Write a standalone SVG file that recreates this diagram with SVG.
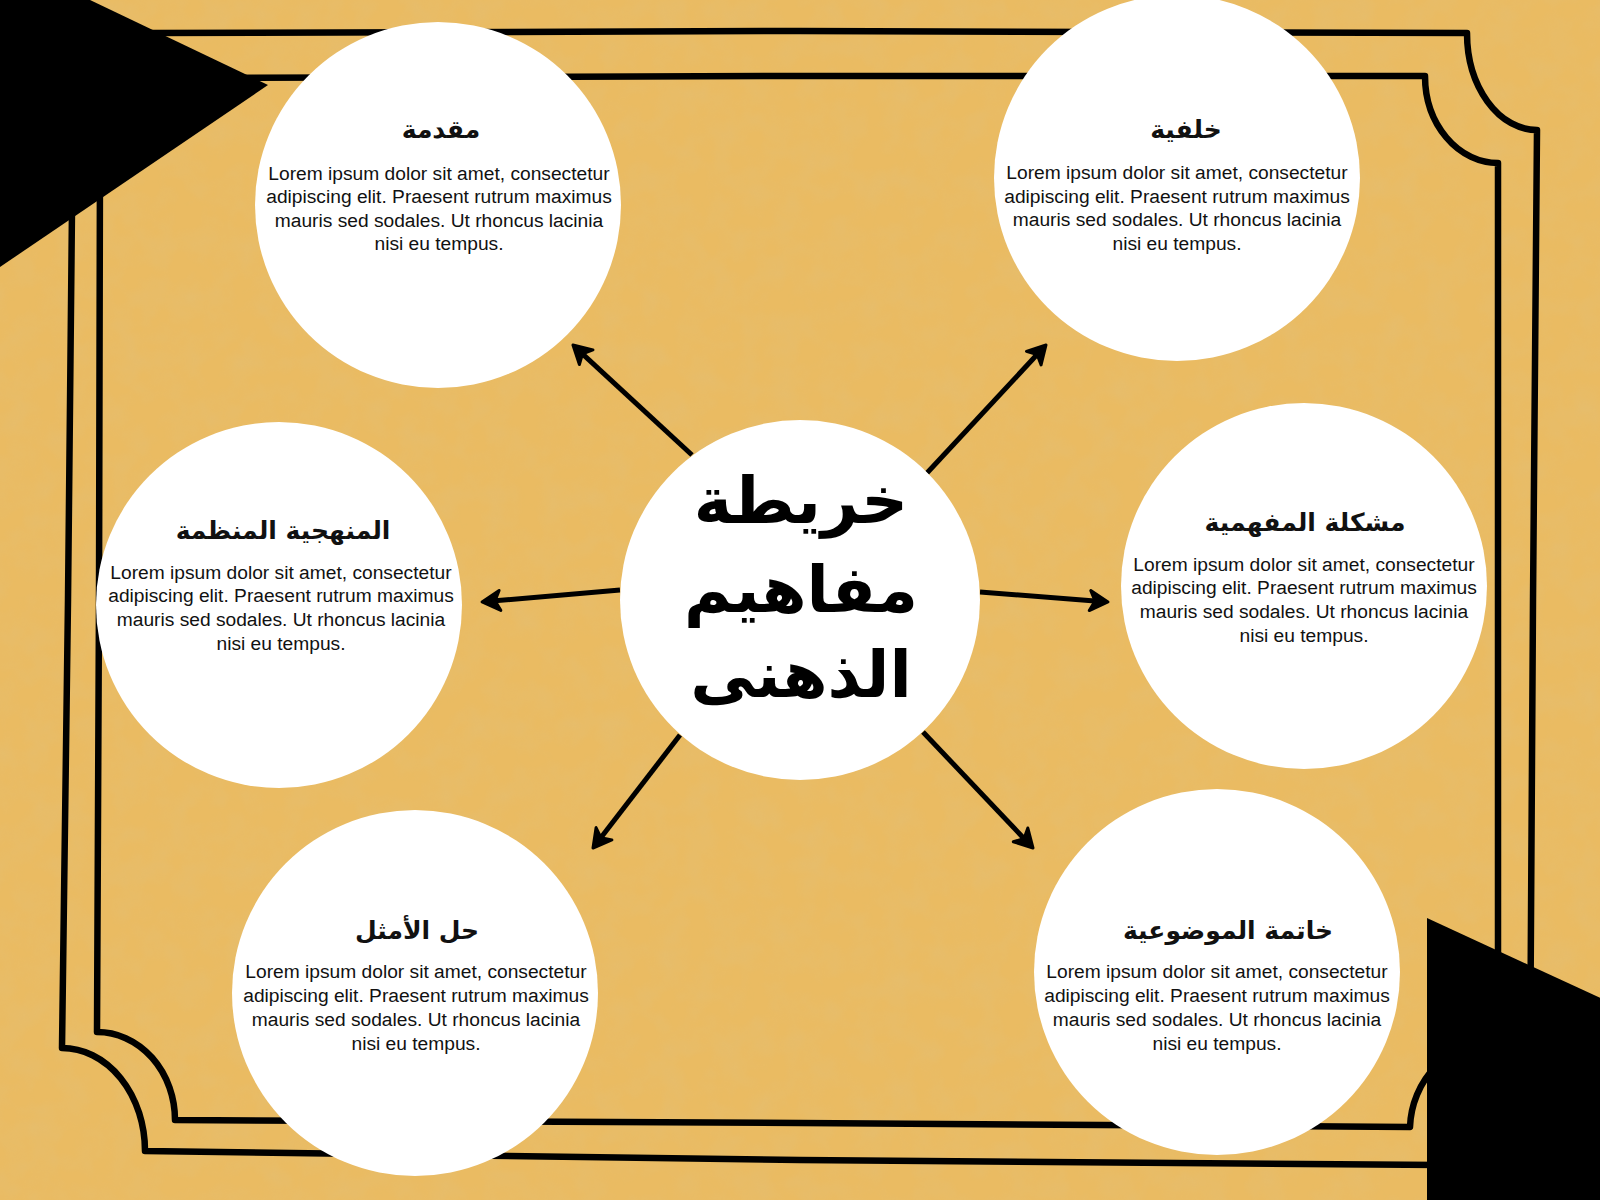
<svg xmlns="http://www.w3.org/2000/svg" width="1600" height="1200" viewBox="0 0 1600 1200">
  <defs>
    <style>
      .bg { fill: #EABB62; }
      .frame { fill: none; stroke: #000; stroke-width: 6.5; stroke-linejoin: round; stroke-linecap: round; }
      .tri { fill: #000; }
      .node { fill: #FFFFFF; }
      .head { font-family: "DejaVu Sans", "Noto Sans", sans-serif; font-weight: bold; font-size: 25px; fill: #111; text-anchor: middle; }
      .body { font-family: "Liberation Sans", Arial, sans-serif; font-size: 19.2px; fill: #111; text-anchor: middle; }
      .title { font-family: "DejaVu Sans", "Noto Sans", sans-serif; font-weight: bold; font-size: 65px; fill: #000; text-anchor: middle; }
      .conn { stroke: #000; stroke-width: 5; fill: none; marker-end: url(#arrow); }
    </style>
    <marker id="arrow" markerUnits="userSpaceOnUse" viewBox="-12 -14 26 28" refX="0" refY="0" markerWidth="26" markerHeight="28" orient="auto">
      <path d="M10,0 L-8,-10 L-3,0 L-8,10 Z" fill="#000" stroke="#000" stroke-width="3" stroke-linejoin="round"/>
    </marker>
    <filter id="grain" x="0" y="0" width="100%" height="100%">
      <feTurbulence type="fractalNoise" baseFrequency="0.035" numOctaves="3" seed="7" result="n"/>
      <feColorMatrix in="n" type="matrix" values="0 0 0 0 0.72  0 0 0 0 0.55  0 0 0 0 0.25  0 0 0 -1.6 1.05"/>
    </filter>
  </defs>

  <rect class="bg" x="0" y="0" width="1600" height="1200"/>
  <rect x="0" y="0" width="1600" height="1200" filter="url(#grain)" opacity="0.25"/>

  <g id="frame">
    <path class="frame" d="M150,33 L800,31 L1467,33 A70,97 0 0 0 1537,130 L1533,600 L1530,1080 A90,85 0 0 0 1440,1165 L800,1160 L145,1151 A83,103 0 0 0 62,1048 L68,600 L73,112 A80,80 0 0 0 150,33 Z"/>
    <path class="frame" d="M180,78 L800,76 L1425,76 A73,87 0 0 0 1498,163 L1498,600 L1498,1040 A88,90 0 0 0 1410,1127 L800,1123 L175,1120 A78,88 0 0 0 97,1032 L99,600 L100,150 A80,72 0 0 0 180,78 Z"/>
  </g>

  <polygon class="tri" points="0,-43 268,85 0,267"/>
  <polygon class="tri" points="1427,918 1620,1007 1620,1210 1427,1210"/>

  <g id="connectors">
    <line class="conn" x1="692" y1="455" x2="580.3" y2="351.8"/>
    <line class="conn" x1="927" y1="473" x2="1039.2" y2="352.3"/>
    <line class="conn" x1="620" y1="590" x2="492" y2="601.1"/>
    <line class="conn" x1="980" y1="592" x2="1098" y2="601.2"/>
    <line class="conn" x1="680" y1="735" x2="599.1" y2="840.1"/>
    <line class="conn" x1="923" y1="732" x2="1026.1" y2="840.7"/>
  </g>

  <g id="center">
    <circle class="node" cx="800" cy="600" r="180"/>
    <text class="title" x="801" y="523">خريطة</text>
    <text class="title" x="801" y="612">مفاهيم</text>
    <text class="title" x="801" y="697">الذهنى</text>
  </g>

  <g id="node-intro">
    <circle class="node" cx="438" cy="205" r="183"/>
    <text class="head" x="441" y="138">مقدمة</text>
    <text class="body" x="439" y="180">Lorem ipsum dolor sit amet, consectetur</text>
    <text class="body" x="439" y="203">adipiscing elit. Praesent rutrum maximus</text>
    <text class="body" x="439" y="227">mauris sed sodales. Ut rhoncus lacinia</text>
    <text class="body" x="439" y="250">nisi eu tempus.</text>
  </g>

  <g id="node-background">
    <circle class="node" cx="1177" cy="178" r="183"/>
    <text class="head" x="1186" y="138">خلفية</text>
    <text class="body" x="1177" y="179">Lorem ipsum dolor sit amet, consectetur</text>
    <text class="body" x="1177" y="203">adipiscing elit. Praesent rutrum maximus</text>
    <text class="body" x="1177" y="226">mauris sed sodales. Ut rhoncus lacinia</text>
    <text class="body" x="1177" y="250">nisi eu tempus.</text>
  </g>

  <g id="node-method">
    <circle class="node" cx="279" cy="605" r="183"/>
    <text class="head" x="283" y="539">المنهجية المنظمة</text>
    <text class="body" x="281" y="579">Lorem ipsum dolor sit amet, consectetur</text>
    <text class="body" x="281" y="602">adipiscing elit. Praesent rutrum maximus</text>
    <text class="body" x="281" y="626">mauris sed sodales. Ut rhoncus lacinia</text>
    <text class="body" x="281" y="650">nisi eu tempus.</text>
  </g>

  <g id="node-problem">
    <circle class="node" cx="1304" cy="586" r="183"/>
    <text class="head" x="1305" y="531">مشكلة المفهمية</text>
    <text class="body" x="1304" y="571">Lorem ipsum dolor sit amet, consectetur</text>
    <text class="body" x="1304" y="594">adipiscing elit. Praesent rutrum maximus</text>
    <text class="body" x="1304" y="618">mauris sed sodales. Ut rhoncus lacinia</text>
    <text class="body" x="1304" y="642">nisi eu tempus.</text>
  </g>

  <g id="node-solution">
    <circle class="node" cx="415" cy="993" r="183"/>
    <text class="head" x="417" y="939">حل الأمثل</text>
    <text class="body" x="416" y="978">Lorem ipsum dolor sit amet, consectetur</text>
    <text class="body" x="416" y="1002">adipiscing elit. Praesent rutrum maximus</text>
    <text class="body" x="416" y="1026">mauris sed sodales. Ut rhoncus lacinia</text>
    <text class="body" x="416" y="1050">nisi eu tempus.</text>
  </g>

  <g id="node-conclusion">
    <circle class="node" cx="1217" cy="972" r="183"/>
    <text class="head" x="1228" y="939">خاتمة الموضوعية</text>
    <text class="body" x="1217" y="978">Lorem ipsum dolor sit amet, consectetur</text>
    <text class="body" x="1217" y="1002">adipiscing elit. Praesent rutrum maximus</text>
    <text class="body" x="1217" y="1026">mauris sed sodales. Ut rhoncus lacinia</text>
    <text class="body" x="1217" y="1050">nisi eu tempus.</text>
  </g>
</svg>
